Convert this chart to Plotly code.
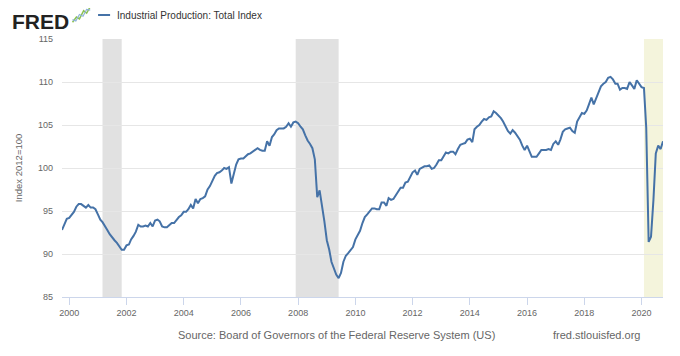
import pandas as pd
import plotly.graph_objects as go

# Monthly values, Oct 1999 .. Oct 2020 (Index 2012=100)
v1999 = [92.8, 93.4, 94.1]
v2000 = [94.2, 94.5, 94.9, 95.5, 95.8, 95.8, 95.6, 95.4, 95.7, 95.4, 95.4, 95.2]
v2001 = [94.6, 94.0, 93.7, 93.3, 92.8, 92.3, 91.9, 91.6, 91.3, 90.9, 90.5, 90.5]
v2002 = [91.0, 91.1, 91.7, 92.1, 92.6, 93.4, 93.2, 93.2, 93.3, 93.2, 93.6, 93.2]
v2003 = [93.9, 94.0, 93.8, 93.2, 93.1, 93.1, 93.3, 93.6, 93.6, 94.0, 94.3, 94.5]
v2004 = [94.9, 94.9, 95.2, 95.7, 95.3, 96.4, 95.9, 96.4, 96.5, 96.7, 97.5, 97.9]
v2005 = [98.5, 99.1, 99.4, 99.5, 99.7, 100.0, 99.9, 100.1, 98.2, 99.4, 100.4, 101.0]
v2006 = [101.1, 101.1, 101.3, 101.6, 101.7, 101.9, 102.0, 102.3, 102.1, 102.0, 102.0, 103.1]
v2007 = [102.6, 103.6, 103.9, 104.4, 104.6, 104.6, 104.6, 104.8, 105.2, 104.8, 105.3, 105.4]
v2008 = [105.2, 104.8, 104.5, 103.8, 103.2, 102.8, 102.3, 101.0, 96.6, 97.4, 95.8, 93.8]
v2009 = [91.6, 90.5, 89.1, 88.3, 87.6, 87.2, 87.8, 89.1, 89.8, 90.1, 90.4, 90.8]
v2010 = [91.7, 92.3, 92.7, 93.6, 94.3, 94.6, 95.0, 95.3, 95.3, 95.2, 95.2, 96.0]
v2011 = [96.0, 95.6, 96.5, 96.3, 96.4, 96.8, 97.3, 97.7, 97.7, 98.3, 98.4, 98.9]
v2012 = [99.5, 99.7, 99.2, 99.9, 100.1, 100.2, 100.2, 100.3, 99.9, 100.0, 100.4, 100.9]
v2013 = [100.9, 101.4, 101.8, 101.7, 101.9, 101.9, 101.6, 102.2, 102.7, 102.8, 102.9, 103.3]
v2014 = [103.4, 103.0, 104.5, 104.8, 105.0, 105.4, 105.7, 105.6, 105.9, 106.0, 106.6, 106.4]
v2015 = [106.1, 105.8, 105.4, 104.8, 104.3, 104.0, 104.4, 104.1, 103.7, 103.3, 102.6, 102.1]
v2016 = [102.6, 101.8, 101.3, 101.3, 101.3, 101.7, 102.1, 102.1, 102.1, 102.2, 102.1, 102.8]
v2017 = [103.1, 102.7, 103.3, 104.2, 104.5, 104.6, 104.7, 104.3, 104.1, 105.4, 106.0, 106.4]
v2018 = [106.3, 106.7, 107.4, 108.2, 107.4, 108.1, 108.7, 109.5, 109.8, 110.0, 110.5, 110.6]
v2019 = [110.3, 109.8, 109.8, 109.1, 109.3, 109.3, 109.2, 110.0, 109.6, 109.2, 110.2, 109.8]
v2020 = [109.4, 109.3, 104.7, 91.4, 92.0, 96.3, 101.7, 102.6, 102.2, 103.1]

values = (v1999 + v2000 + v2001 + v2002 + v2003 + v2004 + v2005 + v2006 + v2007
          + v2008 + v2009 + v2010 + v2011 + v2012 + v2013 + v2014 + v2015
          + v2016 + v2017 + v2018 + v2019 + v2020)
dates = pd.date_range("1999-10-01", periods=len(values), freq="MS")

recessions = [("2001-03-01", "2001-11-01"), ("2007-12-01", "2009-06-01")]
ongoing_recession = ("2020-02-01", "2020-10-01")

tick_years = list(range(2000, 2021, 2))
tick_vals = [f"{y}-01-01" for y in tick_years]
tick_text = [str(y) for y in tick_years]
y_ticks = [85, 90, 95, 100, 105, 110, 115]

series_name = "Industrial Production: Total Index"
line_color = "#4572a7"
font_family = "Liberation Sans, Arial, sans-serif"

fig = go.Figure()
fig.add_trace(go.Scatter(x=dates, y=values, mode="lines", name=series_name,
                         line=dict(color=line_color, width=2), showlegend=False))

shapes = []
for s, e in recessions:
    shapes.append(dict(type="rect", xref="x", yref="paper", x0=s, x1=e, y0=0, y1=1,
                       fillcolor="#e1e1e1", line=dict(width=0), layer="below"))
shapes.append(dict(type="rect", xref="x", yref="paper", x0=ongoing_recession[0],
                   x1=ongoing_recession[1], y0=0, y1=1,
                   fillcolor="#f4f4dc", line=dict(width=0), layer="below"))

# legend line
shapes.append(dict(type="line", xref="paper", yref="paper", x0=0.060, x1=0.080,
                   y0=1.093, y1=1.093, line=dict(color=line_color, width=2)))

# small FRED logo icon
shapes.append(dict(type="path", xref="paper", yref="paper",
                   path="M 0.0175,1.065 L 0.024,1.085 L 0.029,1.078 L 0.036,1.110 L 0.041,1.100 L 0.047,1.125",
                   line=dict(color="#8cc152", width=1.5)))
shapes.append(dict(type="path", xref="paper", yref="paper",
                   path="M 0.0175,1.075 L 0.023,1.070 L 0.029,1.095 L 0.035,1.088 L 0.041,1.115 L 0.047,1.112",
                   line=dict(color="#8fb3d9", width=1.2)))

annotations = [
    dict(text="<b>FRED</b>", x=-0.085, y=1.118, xref="paper", yref="paper",
         xanchor="left", yanchor="top", showarrow=False, borderpad=0,
         font=dict(family=font_family, size=21, color="#222222")),
    dict(text=series_name, x=0.089, y=1.093, xref="paper", yref="paper",
         xanchor="left", yanchor="middle", showarrow=False,
         font=dict(family=font_family, size=10, color="#333333")),
    dict(text="Index 2012=100", x=-0.073, y=0.5, xref="paper", yref="paper",
         textangle=-90, xanchor="center", yanchor="middle", showarrow=False,
         font=dict(family=font_family, size=9.5, color="#666666")),
    dict(text="Source: Board of Governors of the Federal Reserve System (US)",
         x=0.456, y=-0.147, xref="paper", yref="paper", xanchor="center",
         yanchor="middle", showarrow=False,
         font=dict(family=font_family, size=11, color="#666666")),
    dict(text="fred.stlouisfed.org", x=0.89, y=-0.147, xref="paper", yref="paper",
         xanchor="center", yanchor="middle", showarrow=False,
         font=dict(family=font_family, size=11, color="#666666")),
]

# page body has an 8px default margin, so the figure is offset by (8, 8)
fig.update_layout(
    width=680, height=356,
    margin=dict(l=54, r=25, t=31, b=67),
    paper_bgcolor="white", plot_bgcolor="white",
    font=dict(family=font_family, size=9, color="#666666"),
    shapes=shapes, annotations=annotations,
    xaxis=dict(type="date", range=["1999-10-01", "2020-10-01"],
               tickvals=tick_vals, ticktext=tick_text,
               showgrid=False, zeroline=False,
               showline=True, linecolor="#ccd6eb", linewidth=1,
               ticks="outside", ticklen=7, tickcolor="#ccd6eb",
               tickfont=dict(size=9, color="#666666")),
    yaxis=dict(range=[85, 115], tickvals=y_ticks,
               showgrid=True, gridcolor="#e6e6e6", gridwidth=1,
               zeroline=False, showline=False, ticks="",
               ticklabelstandoff=8,
               tickfont=dict(size=9, color="#666666")),
)

fig.write_html("out.html")
